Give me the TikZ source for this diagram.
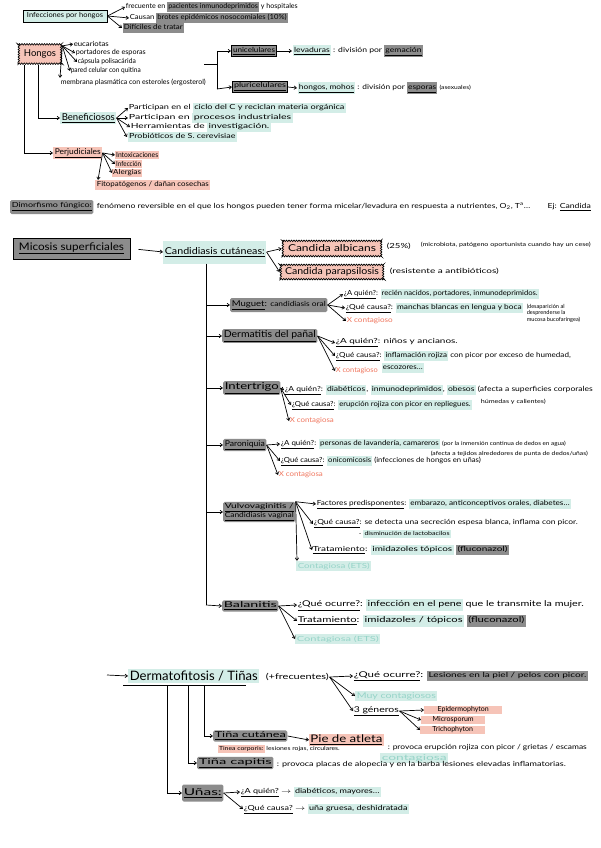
\documentclass[tikz,border=0pt]{standalone}
\usepackage{fontspec}
\setmainfont{Lato}
\usepackage{graphicx}
\usetikzlibrary{arrows.meta,decorations.pathmorphing,calc}
\definecolor{mint}{RGB}{211,237,231}
\definecolor{pinkc}{RGB}{246,196,184}
\definecolor{grayc}{RGB}{140,140,140}
\definecolor{redt}{RGB}{240,118,94}
\definecolor{mintt}{RGB}{150,212,200}
\newcommand{\hlm}[1]{{\setlength{\fboxsep}{1pt}\colorbox{mint}{\strut#1}}}
\newcommand{\hlg}[1]{{\setlength{\fboxsep}{1pt}\colorbox{grayc}{\strut#1}}}
\newcommand{\hlp}[1]{{\setlength{\fboxsep}{1pt}\colorbox{pinkc}{\strut#1}}}
\newcommand{\uln}[1]{\underline{#1}}
\newcommand{\W}[2]{\resizebox{#1pt}{\height}{#2}}
\newcommand{\fzA}{\fontsize{7}{8.5}\selectfont}
\newcommand{\fzS}{\fontsize{5.6}{6.6}\selectfont}
\newcommand{\fzM}{\fontsize{8}{9.5}\selectfont}
\newcommand{\fzC}{\fontsize{9.5}{11}\selectfont}
\newcommand{\fzL}{\fontsize{10.5}{12}\selectfont}
\newcommand{\fzE}{\fontsize{13}{15}\selectfont}
\tikzset{
 tx/.style={anchor=west, inner sep=0.6pt, font=\fzA, align=left},
 arr/.style={-{Straight Barb[length=2.4pt,width=3.4pt]}, line width=0.7pt},
 ln/.style={line width=0.8pt},
 gbox/.style={anchor=west, fill=grayc, inner sep=1.6pt, rounded corners=1.5pt, align=left},
 gboxd/.style={anchor=west, fill=grayc, inner sep=1.6pt, draw=black, line width=0.8pt},
 mbox/.style={anchor=west, fill=mint, inner sep=1.6pt},
 pbox/.style={anchor=west, fill=pinkc, inner sep=1.6pt},
 lbox/.style={mbox, text=mintt},
 rtx/.style={tx, text=redt},
 cloudbox/.style={draw, fill=pinkc, line width=0.6pt, decorate, decoration={bumps, segment length=5pt, amplitude=1.6pt}, inner sep=2pt},
}
\begin{document}
\begin{tikzpicture}[x=1pt,y=-1pt]
\fill[white] (0,0) rectangle (600,848);
\useasboundingbox (0,0) rectangle (600,848);

% ---------- top ----------
\node[draw, fill=mint, line width=0.8pt, inner sep=2pt, font=\fzA, minimum width=84pt, minimum height=12pt] (inf) at (65,16) {\W{76}{Infecciones por hongos}};
\node[tx] (i1) at (125,7) {\W{172}{frecuente en \hlg{pacientes inmunodeprimidos} y hospitales}};
\node[tx] (i2) at (129,18) {\W{158}{Causan \hlg{brotes epidémicos nosocomiales (10\%)}}};
\node[tx] (i3) at (122,28) {\W{61}{\hlg{Difíciles de tratar}}};
\draw[arr] (inf.east) -- (i1.west);
\draw[arr] (inf.east) -- (i2.west);
\draw[arr] (inf.east) -- (i3.west);

% ---------- Hongos ----------
\node[cloudbox, font=\fzC, minimum width=44pt, minimum height=21pt] (hongos) at (40,54) {Hongos};
\node[tx] (h1) at (73,44) {\W{35}{eucariotas}};
\node[tx] (h2) at (75,53) {\W{70}{portadores de esporas}};
\node[tx] (h3) at (77,62) {\W{58}{cápsula polisacárida}};
\node[tx] (h4) at (70,71) {\W{70}{pared celular con quitina}};
\node[tx] (h5) at (60,82) {\W{145}{membrana plasmática con esteroles (ergosterol)}};
\draw[arr] (hongos.20) -- (h1.west);
\draw[arr] (hongos.20) -- (h2.west);
\draw[arr] (hongos.20) -- (h3.west);
\draw[arr] (hongos.20) -- (h4.west);
\draw[arr] (hongos.20) -- (h5.north west);

\coordinate (bk0) at (204,64);
\coordinate (bk1) at (217,51);
\coordinate (bk2) at (217,89);
\draw[ln] (bk0) -- (bk1 |- bk0);
\draw[ln] (bk1) -- (bk2);
\node[gboxd, font=\fzA] (uni) at (231,51) {\W{42}{\uln{unicelulares}}};
\node[tx] (lev) at (292,51) {\W{130}{\hlm{\uln{levaduras}} : división por \hlg{\uln{gemación}}}};
\node[gboxd, font=\fzA] (pluri) at (232,87) {\W{52}{\uln{pluricelulares}}};
\node[tx] (moh) at (297,88) {\W{173}{\hlm{\uln{hongos, mohos}} : división por \hlg{\uln{esporas}} {\fzS(asexuales)}}};
\draw[arr] (bk1) -- (uni.west);
\draw[arr] (bk2) -- (pluri.west);
\draw[arr] (uni.east) -- (lev.west);
\draw[arr] (pluri.east) -- (moh.west);

\node[mbox, font=\fzC] (benef) at (60,118) {\W{53}{\uln{Beneficiosos}}};
\node[pbox, font=\fzM] (perj) at (53,153) {\W{46}{\uln{Perjudiciales}}};
\draw[arr] (hongos.260) |- (benef.west);
\draw[arr] (hongos.215) |- (perj.west);

\node[tx] (b1) at (128,108) {\W{217}{Participan en el \hlm{ciclo del C y reciclan materia orgánica}}};
\node[tx] (b2) at (128,118) {\W{164}{Participan en \hlm{procesos industriales}}};
\node[tx] (b3) at (130,127) {\W{140}{Herramientas de \hlm{investigación.}}};
\node[tx] (b4) at (127,137) {\W{109}{\hlm{Probióticos de S. cerevisiae}}};
\draw[arr] (benef.east) -- (b1.west);
\draw[arr] (benef.east) -- (b2.west);
\draw[arr] (benef.east) -- (b3.west);
\draw[arr] (benef.east) -- (b4.west);

\node[pbox, font=\fzA, inner sep=1pt] (p1) at (115,155) {\W{42}{Intoxicaciones}};
\node[pbox, font=\fzA, inner sep=1pt] (p2) at (115,164) {\W{25}{Infección}};
\node[pbox, font=\fzA, inner sep=1pt] (p3) at (112,173) {\W{28}{Alergias}};
\node[pbox, font=\fzA] (p4) at (95,185) {\W{112}{Fitopatógenos / dañan cosechas}};
\draw[arr] (perj.east) -- (p1.west);
\draw[arr] (perj.east) -- (p2.west);
\draw[arr] (perj.east) -- (p3.west);
\draw[arr] (perj.east) -- ($(p4.north west)+(3,0)$);

% ---------- Dimorfismo ----------
\node[gbox, font=\fzA, minimum height=14pt] (dim) at (10,207) {\W{80}{\uln{Dimorfismo fúngico:}}};
\node[tx] (dimt) at (96,207) {\W{494}{fenómeno reversible en el que los hongos pueden tener forma micelar/levadura en respuesta a nutrientes, O\textsubscript{2}, T\textsuperscript{a}\dots\qquad Ej: \uln{Candida}}};

% ---------- Micosis ----------
\node[draw, fill=grayc, line width=0.8pt, font=\fzL, minimum width=117pt, minimum height=21pt] (mic) at (71.5,248.5) {\W{105}{\uln{Micosis superficiales}}};
\node[mbox, font=\fzC, minimum height=23pt] (cand) at (163,252) {\W{100}{\uln{Candidiasis cutáneas:}}};
\draw[arr, shorten <=8pt] (mic.east) -- (cand.west);
\node[cloudbox, font=\fzC, minimum width=100pt, minimum height=17pt] (calb) at (332,248.5) {\W{88}{Candida albicans}};
\node[cloudbox, font=\fzC, minimum width=104pt, minimum height=16pt] (cpar) at (332,272) {\W{94}{Candida parapsilosis}};
\draw[arr] (cand.east) -- (calb.west);
\draw[arr] (cand.east) -- (cpar.west);
\node[tx] (c25) at (386,246) {\W{24}{(25\%)}};
\node[tx, font=\fzS] (cmic) at (420,245) {\W{170}{(microbiota, patógeno oportunista cuando hay un cese)}};
\node[tx] (cres) at (389,271) {\W{109}{(resistente a antibióticos)}};

\coordinate (tr) at (206,605);
\draw[ln] (cand.south -| tr) -- (tr);

% Muguet
\node[gbox, font=\fzM, minimum height=14pt] (mug) at (230,305) {\W{94}{\uln{Muguet}: {\fzA candidiasis oral}}};
\draw[arr] (tr |- mug.west) -- (mug.west);
\node[tx] (mq1) at (343,294) {\W{195}{\uln{¿A quién?}: \hlm{recién nacidos, portadores, inmunodeprimidos.}}};
\node[tx] (mq2) at (345,308) {\W{177}{\uln{¿Qué causa?}: \hlm{manchas blancas en lengua y boca}}};
\node[tx, font=\fzS] (mq3) at (526,313) {(desaparición al\\desprenderse la\\mucosa bucofaríngea)};
\node[rtx] (mx) at (346,321) {\W{46}{X contagioso}};
\draw[arr] (mug.east) -- (mq1.west);
\draw[arr] (mug.east) -- (mq2.west);
\draw[arr] (mug.east) -- (mx.west);

% Dermatitis
\node[gbox, font=\fzC] (derm) at (222,336) {\W{92}{\uln{Dermatitis del pañal}}};
\draw[arr] (tr |- derm.west) -- (derm.west);
\node[tx] (dq1) at (335,343) {\W{122}{\uln{¿A quién?}: niños y ancianos.}};
\node[tx] (dq2) at (335,356) {\W{235}{\uln{¿Qué causa?}: \hlm{inflamación rojiza} con picor por exceso de humedad,}};
\node[tx] (dq3) at (381,368) {\W{42}{\hlm{escozores\dots}}};
\node[rtx] (dx) at (335,371) {\W{42}{X contagioso}};
\draw[arr] (derm.east) -- (dq1.west);
\draw[arr] (derm.east) -- (dq2.west);
\draw[arr] (derm.east) -- (dx.west);

% Intertrigo
\node[gbox, font=\fzC] (inter) at (223,388) {\W{54}{\uln{Intertrigo}}};
\draw[arr] (tr |- inter.west) -- (inter.west);
\node[tx] (iq1) at (284,390) {\W{308}{\uln{¿A quién?}: \hlm{diabéticos}, \hlm{inmunodeprimidos}, \hlm{obesos} (afecta a superficies corporales}};
\node[tx, font=\fzS] (iq1b) at (480,402) {\W{65}{húmedas y calientes)}};
\node[tx] (iq2) at (291,405) {\W{180}{\uln{¿Qué causa?}: \hlm{erupción rojiza con picor en repliegues.}}};
\node[rtx] (ix) at (289,421) {\W{44}{X contagiosa}};
\draw[arr] (inter.east) -- (iq1.west);
\draw[arr] (inter.east) -- (iq2.west);
\draw[arr] (inter.east) -- (ix.west);

% Paroniquia
\node[gbox, font=\fzM] (par) at (223,445) {\W{40}{\uln{Paroniquia}}};
\draw[arr] (tr |- par.west) -- (par.west);
\node[tx] (pq1) at (280,444) {\W{285}{\uln{¿A quién?}: \hlm{personas de lavandería, camareros} {\fzS(por la inmersión continua de dedos en agua)}}};
\node[tx, font=\fzS] (pq1b) at (430,454) {\W{157}{(afecta a tejidos alrededores de punta de dedos/uñas)}};
\node[tx] (pq2) at (280,461) {\W{200}{\uln{¿Qué causa?}: \hlm{onicomicosis} (infecciones de hongos en uñas)}};
\node[rtx] (px) at (278,475) {\W{44}{X contagiosa}};
\draw[arr] (par.east) -- (pq1.west);
\draw[arr] (par.east) -- (pq2.west);
\draw[arr] (par.east) -- (px.west);

% Vulvovaginitis
\node[gbox, font=\fzA] (vulv) at (223,512) {\W{69}{\uln{Vulvovaginitis /}}\\\W{69}{\uln{Candidiasis vaginal}}};
\draw[arr] (tr |- vulv.west) -- (vulv.west);
\node[tx] (vq1) at (316,504) {\W{254}{\uln{Factores predisponentes}: \hlm{embarazo, anticonceptivos orales, diabetes\dots}}};
\node[tx] (vq2) at (313,524) {\W{264}{\uln{¿Qué causa?}: se detecta una secreción espesa blanca, inflama con picor.}};
\node[tx, font=\fzS] (vq2b) at (358,534) {\W{92}{- \hlm{disminución de lactobacilos}}};
\node[tx] (vq3) at (312,550) {\W{196}{\uln{Tratamiento}: \hlm{imidazoles tópicos} \hlg{(fluconazol)}}};
\node[lbox, font=\fzA] (vq4) at (296,566) {\W{72}{Contagiosa (ETS)}};
\draw[arr] (vulv.north east) -- (vq1.west);
\draw[arr] (vulv.north east) -- (vq2.west);
\draw[arr] (vulv.north east) -- (vq3.west);
\draw[arr] (vulv.north east) -- ($(vq4.north west)+(1,0)$);

% Balanitis
\node[gbox, font=\fzM] (bal) at (222,606) {\W{53}{\uln{Balanitis}}};
\draw[arr] (tr) -- (bal.west);
\node[tx, font=\fzM] (bq1) at (297,605) {\W{286}{\uln{¿Qué ocurre?}: \hlm{infección en el pene} que le transmite la mujer.}};
\node[tx, font=\fzM] (bq2) at (297,621) {\W{228}{\uln{Tratamiento}: \hlm{imidazoles / tópicos} \hlg{(fluconazol)}}};
\node[lbox, font=\fzA] (bq3) at (295,639) {\W{82}{Contagiosa (ETS)}};
\draw[arr] (bal.east) -- (bq1.west);
\draw[arr] (bal.east) -- (bq2.west);
\draw[arr] (bal.east) -- (bq3.west);

% ---------- Dermatofitosis ----------
\coordinate (ds) at (107,675);
\node[mbox, font=\fzE] (derma) at (128,676) {\W{128}{Dermatofitosis / Tiñas}};
\draw[arr] (ds) -- (derma.west);
\draw[ln] ($(derma.south west)+(-5,3)$) -- ($(derma.south west)+(118,3)$);
\node[tx, font=\fzM] (frec) at (265,677) {\W{63}{(+frecuentes)}};
\node[tx, font=\fzM] (dq) at (353,676) {\W{234}{\uln{¿Qué ocurre?}: {\fzA\hlg{Lesiones en la piel / pelos con picor.}}}};
\node[lbox, font=\fzM] (dmc) at (355,696) {\W{79}{Muy contagiosos}};
\node[tx, font=\fzM] (d3) at (353,711) {\W{45}{\uln{3 géneros}}};
\draw[arr] (frec.east) -- (dq.west);
\draw[arr] (frec.east) -- (dmc.west);
\draw[arr] (frec.east) -- (d3.west);
\node[pbox, font=\fzA, inner sep=1pt, minimum width=78pt] (g1) at (424,710) {Epidermophyton};
\node[pbox, font=\fzA, inner sep=1pt, minimum width=64pt] (g2) at (421,720) {Microsporum};
\node[pbox, font=\fzA, inner sep=1pt, minimum width=65pt] (g3) at (420,730) {Trichophyton};
\draw[arr] (d3.east) -- (g1.west);
\draw[arr] (d3.east) -- (g2.west);
\draw[arr] (d3.east) -- (g3.west);

\coordinate (v1) at (204,736);
\coordinate (v2) at (188,763);
\coordinate (v3) at (167,793);
\node[gbox, font=\fzM] (tcut) at (213,736) {\W{71}{\uln{Tiña cutánea}}};
\node[gbox, font=\fzM] (tcap) at (197,763) {\W{73}{\uln{Tiña capitis}}};
\node[gbox, font=\fzC, minimum height=17pt] (unas) at (182,793) {\W{38}{\uln{Uñas:}}};
\draw[arr] ($(derma.south -| v1)+(0,3)$) |- (tcut.west);
\draw[arr] ($(derma.south -| v2)+(0,3)$) |- (tcap.west);
\draw[arr] ($(derma.south -| v3)+(0,3)$) |- (unas.west);

\node[pbox, font=\fzL, inner sep=1.2pt] (pie) at (309,740) {\W{72}{\uln{Pie de atleta}}};
\draw[arr] (tcut.east) -- (pie.west);
\node[tx] (piet) at (387,748) {\W{199}{: provoca erupción rojiza con picor / grietas / escamas}};
\node[tx, font=\fzS] (tcorp) at (217,749) {\W{122}{\hlp{Tinea corporis:} lesiones rojas, circulares.}};
\node[lbox, font=\fzM] (contg) at (380,758) {\W{65}{contagiosa}};
\node[tx] (tcapt) at (276,765) {\W{289}{: provoca placas de alopecia y en la barba lesiones elevadas inflamatorias.}};

\node[tx] (uq1) at (240,792) {\W{140}{\uln{¿A quién?} $\rightarrow$ \hlm{diabéticos, mayores\dots}}};
\node[tx] (uq2) at (243,809) {\W{165}{\uln{¿Qué causa?} $\rightarrow$ \hlm{uña gruesa, deshidratada}}};
\draw[arr] (unas.east) -- (uq1.west);
\draw[arr] (unas.east) -- (uq2.west);
\end{tikzpicture}
\end{document}
